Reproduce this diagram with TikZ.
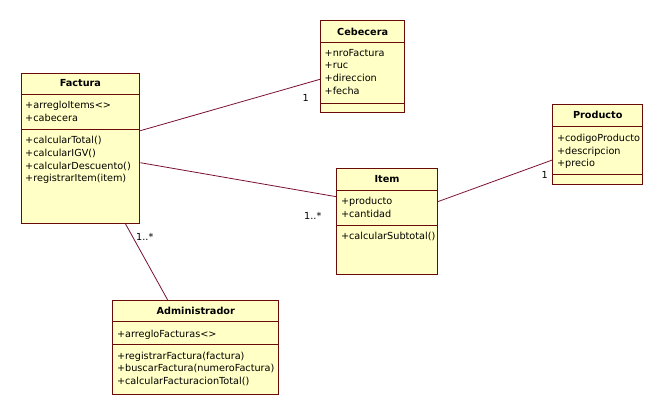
\documentclass[tikz,border=0pt]{standalone}
\usepackage{fontspec}
\setmainfont{DejaVu Sans}
\definecolor{umlborder}{HTML}{6A0A0A}
\definecolor{umlfill}{HTML}{FFFFC6}
\definecolor{umlline}{HTML}{7A1030}
\begin{document}
\begin{tikzpicture}[x=1pt,y=-1pt,
  cls/.style={draw=umlborder, fill=umlfill, line width=1pt, inner sep=0pt, anchor=north west},
  div/.style={draw=umlborder, line width=1pt},
  txt/.style={anchor=base west, inner sep=0pt, font=\fontsize{9.7}{11}\selectfont},
  ttl/.style={anchor=base, inner sep=0pt, font=\fontsize{9.7}{11}\selectfont\bfseries},
  mult/.style={anchor=base west, inner sep=0pt, font=\fontsize{9.7}{11}\selectfont},
  assoc/.style={draw=umlline, line width=0.8pt}]
\useasboundingbox[fill=white] (0,0) rectangle (663,414);

% ---------- class boxes ----------
\node[cls, minimum width=118.8pt, minimum height=150.3pt] (fac) at (20.5,72.7) {};
\node[cls, minimum width=84.3pt, minimum height=92.3pt] (ceb) at (320,20) {};
\node[cls, minimum width=100.4pt, minimum height=105.7pt] (item) at (336.3,168.3) {};
\node[cls, minimum width=90pt, minimum height=80pt] (prod) at (552.3,104.3) {};
\node[cls, minimum width=166pt, minimum height=94pt] (adm) at (112.3,300) {};

% ---------- connectors ----------
\coordinate (fc1) at (fac.east |- 0,130.7);
\coordinate (cb1) at (ceb.west |- 0,79.3);
\draw[assoc] (fc1) -- (cb1);
\coordinate (fc2) at (fac.east |- 0,162.7);
\coordinate (it1) at (item.west |- 0,196.7);
\draw[assoc] (fc2) -- (it1);
\coordinate (it2) at (item.east |- 0,201.7);
\coordinate (pr1) at (prod.west |- 0,160);
\draw[assoc] (it2) -- (pr1);
\coordinate (fc3) at (125,223);
\coordinate (ad1) at (167.7,300);
\draw[assoc] (fc3) -- (ad1);

\node[mult] (m1) at (302.5,101.7) {1};
\node[mult] (m2) at (304,219) {1..*};
\node[mult] (m3) at (541.5,178.3) {1};
\node[mult] (m4) at (136,240) {1..*};

% ---------- Factura ----------
\draw[div] (fac.west |- 0,94.3) -- (fac.east |- 0,94.3);
\draw[div] (fac.west |- 0,130) -- (fac.east |- 0,130);
\node[ttl] (facn) at (fac.north |- 0,87) {Factura};
\node[txt] (fa1) at (25,108.7) {+arregloItems<>};
\node[txt] (fa2) at (25,121.3) {+cabecera};
\node[txt] (fm1) at (25,143.7) {+calcularTotal()};
\node[txt] (fm2) at (25,156.3) {+calcularIGV()};
\node[txt] (fm3) at (25,169) {+calcularDescuento()};
\node[txt] (fm4) at (25,181.7) {+registrarItem(item)};

% ---------- Cebecera ----------
\draw[div] (ceb.west |- 0,42.7) -- (ceb.east |- 0,42.7);
\draw[div] (ceb.west |- 0,103.3) -- (ceb.east |- 0,103.3);
\node[ttl] (cebn) at (ceb.north |- 0,35.7) {Cebecera};
\node[txt] (ca1) at (324.5,56.3) {+nroFactura};
\node[txt] (ca2) at (324.5,69) {+ruc};
\node[txt] (ca3) at (324.5,81.7) {+direccion};
\node[txt] (ca4) at (324.5,94.3) {+fecha};

% ---------- Item ----------
\draw[div] (item.west |- 0,190.7) -- (item.east |- 0,190.7);
\draw[div] (item.west |- 0,225.7) -- (item.east |- 0,225.7);
\node[ttl] (itemn) at (item.north |- 0,182.3) {Item};
\node[txt] (ia1) at (340.8,204.7) {+producto};
\node[txt] (ia2) at (340.8,217.3) {+cantidad};
\node[txt] (im1) at (340.8,239.7) {+calcularSubtotal()};

% ---------- Producto ----------
\draw[div] (prod.west |- 0,126.7) -- (prod.east |- 0,126.7);
\draw[div] (prod.west |- 0,174.3) -- (prod.east |- 0,174.3);
\node[ttl] (prodn) at (prod.north |- 0,118.7) {Producto};
\node[txt] (pa1) at (556.8,141.3) {+codigoProducto};
\node[txt] (pa2) at (556.8,154) {+descripcion};
\node[txt] (pa3) at (556.8,166.7) {+precio};

% ---------- Administrador ----------
\draw[div] (adm.west |- 0,321.7) -- (adm.east |- 0,321.7);
\draw[div] (adm.west |- 0,344) -- (adm.east |- 0,344);
\node[ttl] (admn) at (adm.north |- 0,314.7) {Administrador};
\node[txt] (aa1) at (116.8,337) {+arregloFacturas<>};
\node[txt] (am1) at (116.8,359) {+registrarFactura(factura)};
\node[txt] (am2) at (116.8,371.7) {+buscarFactura(numeroFactura)};
\node[txt] (am3) at (116.8,384.3) {+calcularFacturacionTotal()};
\end{tikzpicture}
\end{document}
